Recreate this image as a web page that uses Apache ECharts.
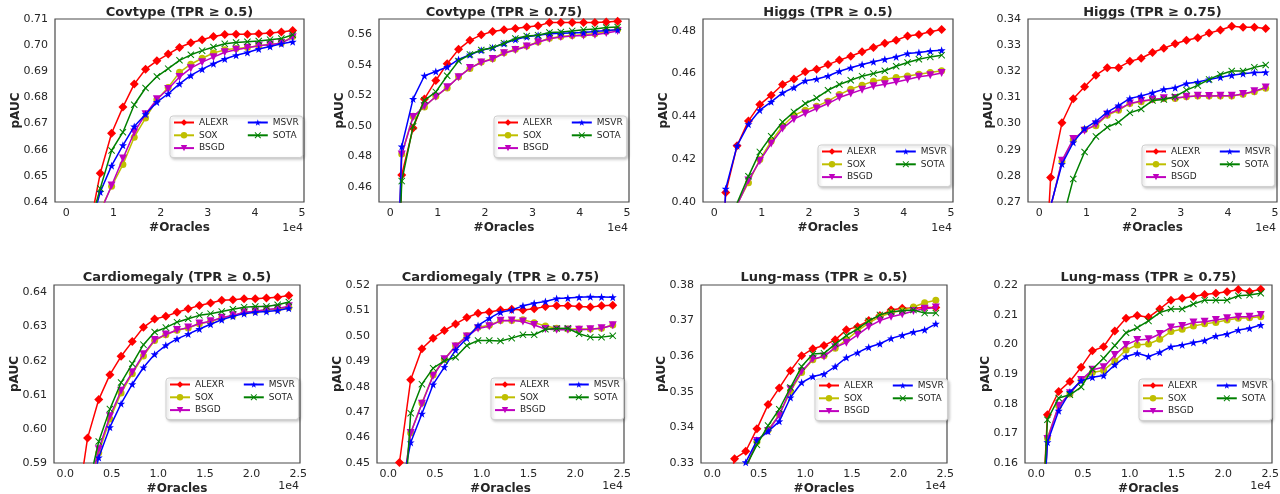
<!DOCTYPE html>
<html><head><meta charset="utf-8">
<script src="https://cdn.jsdelivr.net/npm/echarts@6/dist/echarts.min.js"></script>
<style>html,body{margin:0;padding:0;background:#fff}#c{width:1280px;height:494px}</style>
</head><body><div id="c"></div><script>
// ---------- x values (number of oracles) ----------
const oraclesTop = [0,2400,4800,7200,9600,12000,14400,16800,19200,21600,24000,26400,28800,31200,33600,36000,38400,40800,43200,45600,48000];
const oraclesBottom = [0,1200,2400,3600,4800,6000,7200,8400,9600,10800,12000,13200,14400,15600,16800,18000,19200,20400,21600,22800,24000];
// ---------- tick labels ----------
const xTicksTop = [0,10000,20000,30000,40000,50000];
const xTicksBottom = [0,5000,10000,15000,20000,25000];
const yTicksCov05 = [0.64,0.65,0.66,0.67,0.68,0.69,0.70,0.71];
const yTicksCov75 = [0.46,0.48,0.50,0.52,0.54,0.56];
const yTicksHig05 = [0.40,0.42,0.44,0.46,0.48];
const yTicksHig75 = [0.27,0.28,0.29,0.30,0.31,0.32,0.33,0.34];
const yTicksCar05 = [0.59,0.60,0.61,0.62,0.63,0.64];
const yTicksCar75 = [0.45,0.46,0.47,0.48,0.49,0.50,0.51,0.52];
const yTicksLun05 = [0.33,0.34,0.35,0.36,0.37,0.38];
const yTicksLun75 = [0.16,0.17,0.18,0.19,0.20,0.21,0.22];

// ---------- Covtype (TPR >= 0.5) ----------
const cov05_ALEXR = [0.50,0.58,0.629,0.6510,0.6663,0.6763,0.6851,0.6908,0.6940,0.6966,0.6991,0.7009,0.7021,0.7033,0.7041,0.7042,0.7042,0.7044,0.7046,0.7050,0.7056];
const cov05_SOX   = [0.50,0.57,0.615,0.6368,0.6460,0.6543,0.6648,0.6721,0.6791,0.6838,0.6896,0.6927,0.6950,0.6970,0.6982,0.6987,0.6991,0.6998,0.7002,0.7008,0.7033];
const cov05_BSGD  = [0.50,0.57,0.615,0.6360,0.6463,0.6566,0.6666,0.6736,0.6793,0.6832,0.6878,0.6912,0.6935,0.6954,0.6973,0.6982,0.6990,0.6998,0.7002,0.7008,0.7030];
const cov05_MSVR  = [0.50,0.59,0.628,0.6438,0.6539,0.6617,0.6689,0.6736,0.6782,0.6814,0.6852,0.6884,0.6908,0.6929,0.6947,0.6961,0.6972,0.6985,0.6995,0.7005,0.7013];
const cov05_SOTA  = [0.50,0.59,0.630,0.6452,0.6597,0.6667,0.6772,0.6836,0.6880,0.6910,0.6942,0.6963,0.6979,0.6993,0.7005,0.7010,0.7013,0.7016,0.7021,0.7025,0.7040];
// ---------- Covtype (TPR >= 0.75) ----------
const cov75_ALEXR = [0.25,0.4677,0.4985,0.5176,0.5297,0.5407,0.5501,0.5560,0.5596,0.5618,0.5629,0.5637,0.5648,0.5655,0.5677,0.5677,0.5677,0.5677,0.5677,0.5681,0.5686];
const cov75_SOX   = [0.25,0.4815,0.5062,0.5123,0.5193,0.5248,0.5321,0.5376,0.5418,0.5440,0.5479,0.5501,0.5523,0.5550,0.5574,0.5585,0.5591,0.5598,0.5604,0.5618,0.5633];
const cov75_BSGD  = [0.25,0.4812,0.5058,0.5128,0.5190,0.5252,0.5318,0.5378,0.5415,0.5438,0.5475,0.5497,0.5520,0.5548,0.5570,0.5582,0.5588,0.5592,0.5597,0.5608,0.5622];
const cov75_MSVR  = [0.25,0.4864,0.5176,0.5328,0.5356,0.5385,0.5435,0.5466,0.5495,0.5512,0.5539,0.5565,0.5583,0.5594,0.5604,0.5607,0.5609,0.5611,0.5618,0.5624,0.5629];
const cov75_SOTA  = [0.25,0.4637,0.4996,0.5167,0.5222,0.5328,0.5424,0.5468,0.5497,0.5512,0.5541,0.5572,0.5589,0.5594,0.5611,0.5615,0.5622,0.5629,0.5635,0.5644,0.5648];
// ---------- Higgs (TPR >= 0.5) ----------
const hig05_ALEXR = [0.30,0.4044,0.4263,0.4379,0.4455,0.4499,0.4549,0.4575,0.4608,0.4620,0.4642,0.4663,0.4681,0.4702,0.4722,0.4742,0.4756,0.4776,0.4783,0.4795,0.4806];
const hig05_SOX   = [0.30,0.37,0.3990,0.4090,0.4198,0.4284,0.4354,0.4405,0.4429,0.4447,0.4471,0.4502,0.4527,0.4546,0.4564,0.4574,0.4582,0.4589,0.4597,0.4605,0.4613];
const hig05_BSGD  = [0.30,0.37,0.3985,0.4101,0.4192,0.4273,0.4343,0.4387,0.4413,0.4437,0.4460,0.4488,0.4507,0.4525,0.4541,0.4550,0.4561,0.4572,0.4585,0.4592,0.4603];
const hig05_MSVR  = [0.30,0.4062,0.4263,0.4363,0.4429,0.4468,0.4510,0.4535,0.4566,0.4575,0.4589,0.4611,0.4627,0.4642,0.4655,0.4667,0.4678,0.4694,0.4698,0.4705,0.4709];
const hig05_SOTA  = [0.30,0.37,0.3995,0.4120,0.4234,0.4307,0.4374,0.4421,0.4460,0.4486,0.4522,0.4549,0.4569,0.4588,0.4600,0.4613,0.4634,0.4652,0.4667,0.4678,0.4686];
// ---------- Higgs (TPR >= 0.75) ----------
const hig75_ALEXR = [0.20,0.2794,0.3003,0.3095,0.3141,0.3185,0.3214,0.3214,0.3238,0.3250,0.3272,0.3288,0.3305,0.3319,0.3328,0.3346,0.3358,0.3372,0.3368,0.3368,0.3364];
const hig75_SOX   = [0.20,0.2680,0.2855,0.2938,0.2977,0.2992,0.3032,0.3051,0.3077,0.3083,0.3092,0.3096,0.3096,0.3103,0.3105,0.3105,0.3105,0.3105,0.3112,0.3122,0.3135];
const hig75_BSGD  = [0.20,0.2680,0.2858,0.2941,0.2973,0.2996,0.3035,0.3054,0.3077,0.3086,0.3092,0.3097,0.3098,0.3103,0.3106,0.3105,0.3106,0.3106,0.3113,0.3124,0.3138];
const hig75_MSVR  = [0.20,0.2685,0.2845,0.2928,0.2981,0.3008,0.3044,0.3069,0.3096,0.3106,0.3118,0.3131,0.3137,0.3153,0.3159,0.3169,0.3177,0.3185,0.3191,0.3195,0.3196];
const hig75_SOTA  = [0.20,0.240,0.2622,0.2788,0.2891,0.2951,0.2986,0.3005,0.3041,0.3056,0.3088,0.3092,0.3103,0.3128,0.3146,0.3169,0.3188,0.3201,0.3201,0.3215,0.3224];
// ---------- Cardiomegaly (TPR >= 0.5) ----------
const car05_ALEXR = [0.50,0.575,0.5973,0.6086,0.6159,0.6213,0.6256,0.6298,0.6322,0.6330,0.6342,0.6352,0.6362,0.6369,0.6377,0.6379,0.6382,0.6382,0.6384,0.6386,0.6391];
const car05_SOX   = [0.50,0.55,0.580,0.5930,0.6029,0.6105,0.6162,0.6214,0.6259,0.6276,0.6289,0.6296,0.6308,0.6315,0.6325,0.6332,0.6341,0.6344,0.6349,0.6351,0.6356];
const car05_BSGD  = [0.50,0.55,0.581,0.5940,0.6037,0.6112,0.6166,0.6219,0.6261,0.6277,0.6290,0.6297,0.6309,0.6316,0.6326,0.6333,0.6342,0.6345,0.6350,0.6353,0.6360];
const car05_MSVR  = [0.50,0.55,0.578,0.5916,0.6005,0.6074,0.6131,0.6180,0.6219,0.6245,0.6264,0.6278,0.6293,0.6307,0.6320,0.6330,0.6338,0.6342,0.6344,0.6347,0.6354];
const car05_SOTA  = [0.50,0.55,0.582,0.5963,0.6058,0.6136,0.6191,0.6247,0.6284,0.6297,0.6313,0.6323,0.6333,0.6338,0.6344,0.6351,0.6357,0.6359,0.6359,0.6364,0.6372];
// ---------- Cardiomegaly (TPR >= 0.75) ----------
const car75_ALEXR = [0.30,0.4502,0.4827,0.4949,0.4991,0.5021,0.5047,0.5072,0.5089,0.5094,0.5102,0.5105,0.5102,0.5107,0.5115,0.5118,0.5118,0.5115,0.5113,0.5118,0.5120];
const car75_SOX   = [0.30,0.43,0.4618,0.4736,0.4846,0.4908,0.4961,0.5000,0.5034,0.5042,0.5060,0.5060,0.5063,0.5052,0.5039,0.5030,0.5027,0.5027,0.5027,0.5030,0.5043];
const car75_BSGD  = [0.30,0.43,0.4618,0.4733,0.4843,0.4908,0.4958,0.4997,0.5029,0.5038,0.5059,0.5060,0.5056,0.5043,0.5027,0.5024,0.5024,0.5024,0.5026,0.5030,0.5042];
const car75_MSVR  = [0.30,0.435,0.4581,0.4694,0.4809,0.4877,0.4944,0.4991,0.5041,0.5069,0.5093,0.5102,0.5118,0.5128,0.5135,0.5147,0.5149,0.5152,0.5154,0.5153,0.5152];
const car75_SOTA  = [0.30,0.40,0.4696,0.4810,0.4873,0.4902,0.4916,0.4962,0.4982,0.4982,0.4980,0.4991,0.5004,0.5004,0.5026,0.5029,0.5030,0.5008,0.4995,0.4995,0.5000];
// ---------- Lung-mass (TPR >= 0.5) ----------
const lun05_ALEXR = [0.30,0.315,0.3312,0.3333,0.3396,0.3464,0.3511,0.3559,0.3601,0.3621,0.3630,0.3646,0.3674,0.3683,0.3700,0.3714,0.3730,0.3735,0.3735,0.3737,0.3737];
const lun05_SOX   = [0.30,0.31,0.32,0.3285,0.3360,0.3393,0.3436,0.3501,0.3554,0.3590,0.3601,0.3622,0.3646,0.3671,0.3693,0.3711,0.3722,0.3728,0.3738,0.3750,0.3757];
const lun05_BSGD  = [0.30,0.31,0.32,0.3285,0.3362,0.3390,0.3434,0.3507,0.3557,0.3592,0.3599,0.3625,0.3638,0.3660,0.3683,0.3700,0.3711,0.3718,0.3727,0.3733,0.3737];
const lun05_MSVR  = [0.30,0.31,0.32,0.3302,0.3364,0.3389,0.3417,0.3484,0.3526,0.3543,0.3550,0.3571,0.3596,0.3610,0.3625,0.3635,0.3650,0.3659,0.3668,0.3674,0.3691];
const lun05_SOTA  = [0.30,0.31,0.32,0.3290,0.3351,0.3405,0.3451,0.3512,0.3571,0.3606,0.3608,0.3634,0.3658,0.3677,0.3699,0.3716,0.3725,0.3728,0.3730,0.3721,0.3721];
// ---------- Lung-mass (TPR >= 0.75) ----------
const lun75_ALEXR = [0.10,0.1763,0.1841,0.1875,0.1923,0.1978,0.1992,0.2045,0.2088,0.2097,0.2091,0.2119,0.2149,0.2155,0.2161,0.2168,0.2172,0.2177,0.2185,0.2177,0.2186];
const lun75_SOX   = [0.10,0.1684,0.1793,0.1833,0.1880,0.1905,0.1912,0.1944,0.1981,0.1998,0.2001,0.2017,0.2043,0.2051,0.2062,0.2069,0.2074,0.2082,0.2088,0.2090,0.2093];
const lun75_BSGD  = [0.10,0.1681,0.1793,0.1835,0.1880,0.1914,0.1923,0.1964,0.1998,0.2015,0.2017,0.2035,0.2057,0.2062,0.2074,0.2076,0.2082,0.2088,0.2093,0.2093,0.2099];
const lun75_MSVR  = [0.10,0.1670,0.1776,0.1839,0.1877,0.1889,0.1895,0.1931,0.1959,0.1970,0.1959,0.1973,0.1992,0.1998,0.2006,0.2013,0.2028,0.2035,0.2048,0.2054,0.2065];
const lun75_SOTA  = [0.10,0.1746,0.1819,0.1830,0.1856,0.1916,0.1953,0.1996,0.2039,0.2056,0.2079,0.2107,0.2119,0.2119,0.2136,0.2149,0.2149,0.2149,0.2164,0.2166,0.2172];

const methods = ['ALEXR','SOX','BSGD','MSVR','SOTA'];
const STAR = 'path://M0,-10L2.35,-3.24L9.51,-3.09L3.8,1.24L5.88,8.09L0,4L-5.88,8.09L-3.8,1.24L-9.51,-3.09L-2.35,-3.24Z';
const XMARK = 'path://M-10,-8L-8,-10L0,-2L8,-10L10,-8L2,0L10,8L8,10L0,2L-8,10L-10,8L-2,0Z';
const mstyle = {
  ALEXR:{color:'#ff0000', symbol:'diamond', size:9, rotate:0},
  SOX:{color:'#bfbf00', symbol:'circle', size:7, rotate:0},
  BSGD:{color:'#bf00bf', symbol:'triangle', size:8, rotate:180},
  MSVR:{color:'#0000ff', symbol:STAR, size:8, rotate:0},
  SOTA:{color:'#008000', symbol:XMARK, size:7, rotate:0}
};

const panels = [
  {title:'Covtype (TPR ≥ 0.5)', x:oraclesTop, xr:[-2400,50400], xt:xTicksTop, xd:0, yr:[0.64,0.71], yt:yTicksCov05,
   d:[cov05_ALEXR,cov05_SOX,cov05_BSGD,cov05_MSVR,cov05_SOTA], g:[55,19,249,183], lg:[170,116], ty:12.7},
  {title:'Covtype (TPR ≥ 0.75)', x:oraclesTop, xr:[-2400,50400], xt:xTicksTop, xd:0, yr:[0.45,0.57], yt:yTicksCov75,
   d:[cov75_ALEXR,cov75_SOX,cov75_BSGD,cov75_MSVR,cov75_SOTA], g:[379,19,250,183], lg:[494,116], ty:12.7},
  {title:'Higgs (TPR ≥ 0.5)', x:oraclesTop, xr:[-2400,50400], xt:xTicksTop, xd:0, yr:[0.40,0.4855], yt:yTicksHig05,
   d:[hig05_ALEXR,hig05_SOX,hig05_BSGD,hig05_MSVR,hig05_SOTA], g:[703,19,250,183], lg:[818,145], ty:12.7},
  {title:'Higgs (TPR ≥ 0.75)', x:oraclesTop, xr:[-2400,50400], xt:xTicksTop, xd:0, yr:[0.27,0.34], yt:yTicksHig75,
   d:[hig75_ALEXR,hig75_SOX,hig75_BSGD,hig75_MSVR,hig75_SOTA], g:[1028,19,249,183], lg:[1142,145], ty:12.7},
  {title:'Cardiomegaly (TPR ≥ 0.5)', x:oraclesBottom, xr:[-1200,25200], xt:xTicksBottom, xd:1, yr:[0.59,0.6422], yt:yTicksCar05,
   d:[car05_ALEXR,car05_SOX,car05_BSGD,car05_MSVR,car05_SOTA], g:[54,285,246,178], lg:[166,378], ty:277.3},
  {title:'Cardiomegaly (TPR ≥ 0.75)', x:oraclesBottom, xr:[-1200,25200], xt:xTicksBottom, xd:1, yr:[0.45,0.52], yt:yTicksCar75,
   d:[car75_ALEXR,car75_SOX,car75_BSGD,car75_MSVR,car75_SOTA], g:[377,285,247,178], lg:[491,378], ty:277.3},
  {title:'Lung-mass (TPR ≥ 0.5)', x:oraclesBottom, xr:[-1200,25200], xt:xTicksBottom, xd:1, yr:[0.33,0.38], yt:yTicksLun05,
   d:[lun05_ALEXR,lun05_SOX,lun05_BSGD,lun05_MSVR,lun05_SOTA], g:[701,285,246,178], lg:[815,379], ty:277.3},
  {title:'Lung-mass (TPR ≥ 0.75)', x:oraclesBottom, xr:[-1200,25200], xt:xTicksBottom, xd:1, yr:[0.16,0.22], yt:yTicksLun75,
   d:[lun75_ALEXR,lun75_SOX,lun75_BSGD,lun75_MSVR,lun75_SOTA], g:[1025,285,247,178], lg:[1139,379], ty:277.3}
];

const FONT = 'DejaVu Sans';
const TXT = '#262626';
const grid = [], xAxis = [], yAxis = [], series = [], legend = [], graphic = [];
panels.forEach((p, i) => {
  grid.push({left:p.g[0], top:p.g[1], width:p.g[2], height:p.g[3], show:true, borderColor:'#4a4a4a', borderWidth:1.2,
             backgroundColor:'#fff', containLabel:false, outerBoundsMode:'none'});
  xAxis.push({gridIndex:i, type:'value', min:p.xr[0], max:p.xr[1],
    axisLine:{show:false}, axisTick:{show:false}, splitLine:{show:false},
    axisLabel:{customValues:p.xt, formatter:(v)=> (v/10000).toFixed(p.xd), color:TXT, fontSize:11, fontFamily:FONT, margin:6},
    name:'#Oracles', nameLocation:'middle', nameGap:20, nameMoveOverlap:false,
    nameTextStyle:{fontWeight:'bold', fontSize:12, fontFamily:FONT, color:TXT}});
  yAxis.push({gridIndex:i, type:'value', min:p.yr[0], max:p.yr[1],
    axisLine:{show:false}, axisTick:{show:false}, splitLine:{show:false},
    axisLabel:{customValues:p.yt, formatter:(v)=> v.toFixed(2), color:TXT, fontSize:11, fontFamily:FONT, margin:7},
    name:'pAUC', nameLocation:'middle', nameRotate:90, nameGap:33, nameMoveOverlap:false,
    nameTextStyle:{fontWeight:'bold', fontSize:12, fontFamily:FONT, color:TXT}});
  methods.forEach((m, j) => {
    const s = mstyle[m];
    series.push({type:'line', name:m, xAxisIndex:i, yAxisIndex:i,
      data:p.x.map((xv, k) => [xv, p.d[j][k]]),
      symbol:s.symbol, symbolSize:s.size, symbolRotate:s.rotate, showSymbol:true, clip:true,
      lineStyle:{color:s.color, width:1.5}, itemStyle:{color:s.color},
      emphasis:{disabled:true}, silent:true, animation:false, z:2+j});
  });
  legend.push({left:p.lg[0], top:p.lg[1], orient:'vertical', height:40, itemWidth:20, itemHeight:8, itemGap:3.8,
    padding:[2,4,5,3], backgroundColor:'#fff', borderColor:'#cfcfcf', borderWidth:1, borderRadius:3,
    shadowBlur:3, shadowColor:'rgba(0,0,0,0.22)', shadowOffsetX:1.5, shadowOffsetY:1.5,
    selectedMode:false, textStyle:{fontSize:9, fontFamily:FONT, color:TXT, lineHeight:9},
    data:[{name:'ALEXR', textStyle:{width:44}}, {name:'SOX', textStyle:{width:44}}, {name:'BSGD', textStyle:{width:44}}, 'MSVR', 'SOTA']});
  graphic.push({type:'text', x:p.g[0] + p.g[2]/2, y:p.ty, silent:true,
    style:{text:p.title, font:'bold 13px "DejaVu Sans"', fill:TXT, align:'center', verticalAlign:'middle', textAlign:'center', textVerticalAlign:'middle'}});
  const top = i < 4;
  graphic.push({type:'text', x:p.g[0] + p.g[2] - 1, y:p.g[1] + p.g[3] + (top ? 26 : 23), silent:true,
    style:{text:'1e4', font:'11px "DejaVu Sans"', fill:TXT, align:'right', verticalAlign:'middle', textAlign:'right', textVerticalAlign:'middle'}});
});

const chart = echarts.init(document.getElementById('c'), null, {renderer:'canvas', width:1280, height:494});
chart.setOption({animation:false, backgroundColor:'#fff', textStyle:{fontFamily:FONT},
  grid, xAxis, yAxis, series, legend, graphic});
</script></body></html>
